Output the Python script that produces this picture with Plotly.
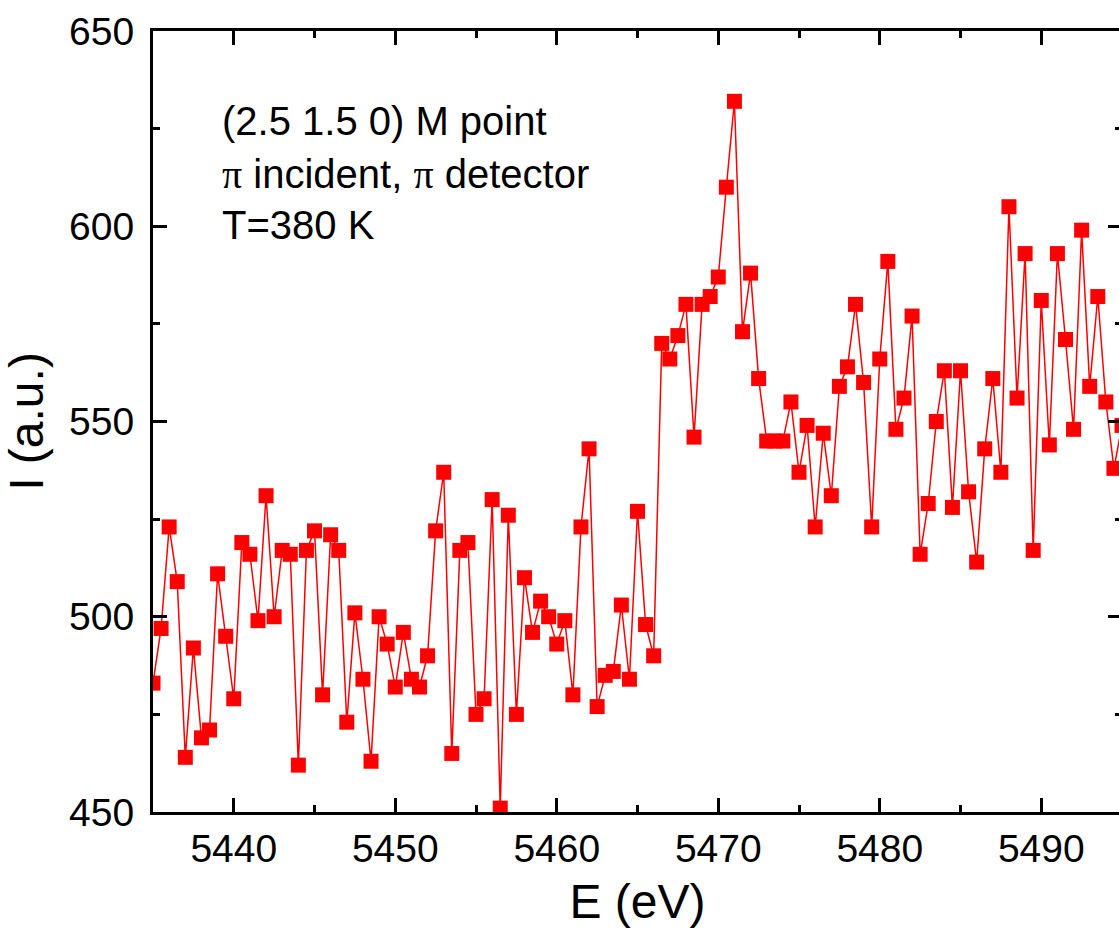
import plotly.graph_objects as go

# Photon energy grid (eV)
energy = [
    5435.0, 5435.5, 5436.0, 5436.5, 5437.0, 5437.5, 5438.0, 5438.5, 5439.0, 5439.5,
    5440.0, 5440.5, 5441.0, 5441.5, 5442.0, 5442.5, 5443.0, 5443.5, 5444.0, 5444.5,
    5445.0, 5445.5, 5446.0, 5446.5, 5447.0, 5447.5, 5448.0, 5448.5, 5449.0, 5449.5,
    5450.0, 5450.5, 5451.0, 5451.5, 5452.0, 5452.5, 5453.0, 5453.5, 5454.0, 5454.5,
    5455.0, 5455.5, 5456.0, 5456.5, 5457.0, 5457.5, 5458.0, 5458.5, 5459.0, 5459.5,
    5460.0, 5460.5, 5461.0, 5461.5, 5462.0, 5462.5, 5463.0, 5463.5, 5464.0, 5464.5,
    5465.0, 5465.5, 5466.0, 5466.5, 5467.0, 5467.5, 5468.0, 5468.5, 5469.0, 5469.5,
    5470.0, 5470.5, 5471.0, 5471.5, 5472.0, 5472.5, 5473.0, 5473.5, 5474.0, 5474.5,
    5475.0, 5475.5, 5476.0, 5476.5, 5477.0, 5477.5, 5478.0, 5478.5, 5479.0, 5479.5,
    5480.0, 5480.5, 5481.0, 5481.5, 5482.0, 5482.5, 5483.0, 5483.5, 5484.0, 5484.5,
    5485.0, 5485.5, 5486.0, 5486.5, 5487.0, 5487.5, 5488.0, 5488.5, 5489.0, 5489.5,
    5490.0, 5490.5, 5491.0, 5491.5, 5492.0, 5492.5, 5493.0, 5493.5, 5494.0, 5494.5,
    5495.0,
]

# Scattered intensity (a.u.)
intensity = [
    483, 497, 523, 509, 464, 492, 469, 471, 511, 495,
    479, 519, 516, 499, 531, 500, 517, 516, 462, 517,
    522, 480, 521, 517, 473, 501, 484, 463, 500, 493,
    482, 496, 484, 482, 490, 522, 537, 465, 517, 519,
    475, 479, 530, 451, 526, 475, 510, 496, 504, 500,
    493, 499, 480, 523, 543, 477, 485, 486, 503, 484,
    527, 498, 490, 570, 566, 572, 580, 546, 580, 582,
    587, 610, 632, 573, 588, 561, 545, 545, 545, 555,
    537, 549, 523, 547, 531, 559, 564, 580, 560, 523,
    566, 591, 548, 556, 577, 516, 529, 550, 563, 528,
    563, 532, 514, 543, 561, 537, 605, 556, 593, 517,
    581, 544, 593, 571, 548, 599, 559, 582, 555, 538,
    549,
]

x_ticks = [5440, 5450, 5460, 5470, 5480, 5490]
y_ticks = [450, 500, 550, 600, 650]

PI = '<span style="font-family:Liberation Serif, Times New Roman, serif">π</span>'
info_lines = ["(2.5 1.5 0) M point", f"{PI} incident, {PI} detector", "T=380 K"]

FONT = "Liberation Sans, Arial, Helvetica, sans-serif"
RED = "#ff0000"

fig = go.Figure()
fig.add_trace(go.Scatter(
    x=energy, y=intensity,
    mode="lines+markers",
    line=dict(color=RED, width=1.5),
    marker=dict(symbol="square", size=15, color=RED, line=dict(width=0)),
    cliponaxis=True,
    showlegend=False,
))

axis_common = dict(
    showline=True, linecolor="black", linewidth=3, mirror="allticks",
    ticks="inside", ticklen=14, tickwidth=3, tickcolor="black",
    showgrid=False, zeroline=False,
    tickfont=dict(family=FONT, size=39, color="black"),
)

fig.update_xaxes(
    range=[5435, 5495], tickvals=x_ticks,
    minor=dict(ticks="inside", ticklen=7, tickwidth=3, tickcolor="black", dtick=5, tick0=5435),
    ticklabelstandoff=0,
    title=dict(text="E (eV)", font=dict(family=FONT, size=48, color="black"), standoff=16),
    **axis_common,
)
fig.update_yaxes(
    range=[450, 650], tickvals=y_ticks,
    minor=dict(ticks="inside", ticklen=7, tickwidth=3, tickcolor="black", dtick=25, tick0=450),
    ticklabelstandoff=8,
    title=dict(text="I (a.u.)", font=dict(family=FONT, size=48, color="black"), standoff=12),
    **axis_common,
)

line_centers = [119, 173, 223]
for txt, yc in zip(info_lines, line_centers):
    fig.add_annotation(
        text=txt, xref="paper", yref="paper",
        x=(220 - 153) / (1125 - 153), y=1 - (yc - 29) / (812 - 29),
        xanchor="left", yanchor="middle", showarrow=False,
        font=dict(family=FONT, size=40, color="black"),
    )

fig.update_layout(
    width=1135, height=936,
    margin=dict(l=153, r=10, t=29, b=124),
    paper_bgcolor="white", plot_bgcolor="white",
)

fig.write_html(
    "out.html",
    post_script="document.body.style.overflow='hidden';document.documentElement.style.overflow='hidden';",
)
